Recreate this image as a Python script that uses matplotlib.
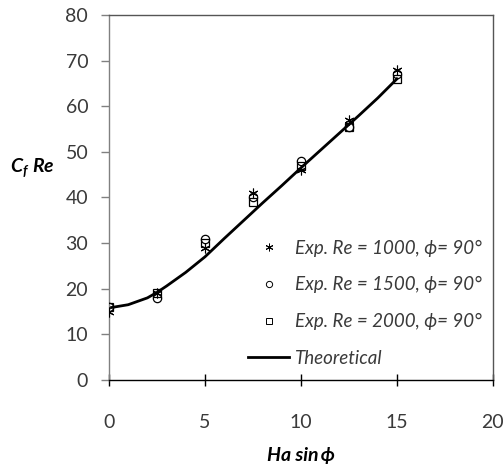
import matplotlib
matplotlib.use("Agg")
import matplotlib.pyplot as plt
from matplotlib.lines import Line2D

plt.rcParams['font.family'] = ['Lato', 'DejaVu Sans']
plt.rcParams['mathtext.fontset'] = 'custom'
plt.rcParams['mathtext.it'] = 'Lato:italic:bold'
plt.rcParams['mathtext.rm'] = 'Lato:italic:bold'

# experimental data (Ha sin phi vs Cf Re)
ha = [0, 2.5, 5, 7.5, 10, 12.5, 15]
re1000 = [15, 19, 29, 41, 46, 57, 68]
re1500 = [16, 18, 31, 40, 48, 55.5, 67]
re2000 = [16, 19, 30, 39, 47, 55.5, 66]

# theoretical curve
ha_th = [0, 1, 2, 2.5, 3, 4, 5, 6, 7, 8, 9, 10, 11, 12, 13, 14, 15]
cf_th = [15.8, 16.5, 18.0, 19.2, 20.6, 23.6, 27.0, 31.0, 34.9, 38.8, 42.6,
         46.5, 50.3, 54.1, 57.9, 61.8, 66.0]

fig = plt.figure(figsize=(5.04, 4.70), dpi=100)
ax = fig.add_axes([0.2163, 0.1915, 0.7617, 0.7766])

ax.plot(ha_th, cf_th, color='black', lw=2.0, zorder=2)
ax.plot(ha, re1000, ls='none', marker=(6, 2, 0), ms=7, mec='black', mew=0.8, zorder=3)
ax.plot(ha, re1500, ls='none', marker='o', ms=6, mfc='none', mec='black', mew=0.9, zorder=3)
ax.plot(ha, re2000, ls='none', marker='s', ms=5.5, mfc='none', mec='black', mew=0.9, zorder=3)

ax.set_xlim(0, 20)
ax.set_ylim(0, 80)
ax.set_xticks([0, 5, 10, 15, 20])
ax.set_yticks(range(0, 81, 10))

ax.spines['left'].set_color('#808080')
ax.spines['bottom'].set_color('black')
ax.spines['top'].set_color('#555555')
ax.spines['right'].set_color('#555555')
for s in ax.spines.values():
    s.set_linewidth(1.0)

ax.tick_params(axis='y', direction='out', length=6, width=1, color='#808080',
               labelsize=14, labelcolor='#3a3a3a', pad=9)
ax.tick_params(axis='x', direction='inout', length=9, width=1, color='black',
               labelsize=14, labelcolor='#3a3a3a', pad=20)

fig.text(0.02, 0.643, r'$C_f\ Re$', fontsize=14, ha='left', va='center')
fig.text(0.597, 0.03, 'Ha sin\u2009\u03d5', fontsize=14, fontweight='bold',
         style='italic', ha='center', va='center')

handles = [
    Line2D([], [], ls='none', marker=(6, 2, 0), ms=5.5, mec='black', mew=0.7),
    Line2D([], [], ls='none', marker='o', ms=4.5, mfc='none', mec='black', mew=0.7),
    Line2D([], [], ls='none', marker='s', ms=4.5, mfc='none', mec='black', mew=0.7),
    Line2D([], [], color='black', lw=2.0),
]
labels = [
    'Exp. Re = 1000, \u03d5= 90\u00b0',
    'Exp. Re = 1500, \u03d5= 90\u00b0',
    'Exp. Re = 2000, \u03d5= 90\u00b0',
    'Theoretical',
]
leg = ax.legend(handles, labels, loc='lower right', bbox_to_anchor=(1.0, 0.005),
                frameon=False, handlelength=2.2, handletextpad=0.3,
                labelspacing=1.05, borderaxespad=0.2,
                prop={'style': 'italic', 'size': 13.5})
for t in leg.get_texts():
    t.set_color('#3a3a3a')

fig.savefig('out.png', dpi=100, facecolor='white')
